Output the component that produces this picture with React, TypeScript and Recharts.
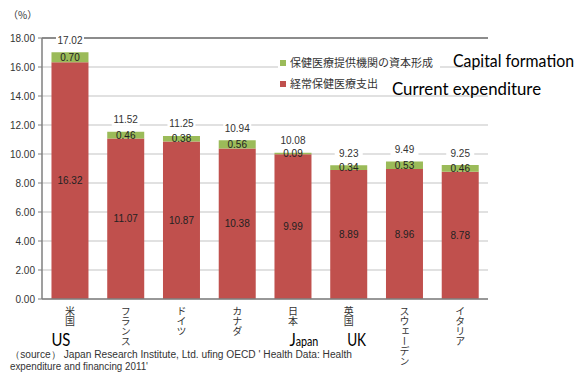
import React from "react";
import {
  BarChart,
  Bar,
  XAxis,
  YAxis,
  CartesianGrid,
  LabelList,
  ReferenceLine,
} from "recharts";

const countries = ["米国", "フランス", "ドイツ", "カナダ", "日本", "英国", "スウェーデン", "イタリア"];
const englishNames = ["US", "", "", "", "Japan", "UK", "", ""];
const currentExpenditure = [16.32, 11.07, 10.87, 10.38, 9.99, 8.89, 8.96, 8.78];
const capitalFormation = [0.7, 0.46, 0.38, 0.56, 0.09, 0.34, 0.53, 0.46];
const totals = [17.02, 11.52, 11.25, 10.94, 10.08, 9.23, 9.49, 9.25];
const yTicks = [0, 2, 4, 6, 8, 10, 12, 14, 16, 18];

const seriesJa = ["保健医療提供機関の資本形成", "経常保健医療支出"];
const seriesEn = ["Capital formation", "Current expenditure"];
const sourceLines = [
  "（source）  Japan Research Institute, Ltd. ufing OECD ' Health Data: Health",
  "expenditure and financing 2011'",
];

const RED = "#C0504D";
const GREEN = "#9BBB59";
const TEXT = "#333";
const FONT = "'Liberation Sans', Arial, sans-serif";
const CJK = "'Noto Sans CJK JP', sans-serif";
const EN_FONT = "Lato, 'Open Sans', sans-serif";

const data = countries.map((c, i) => ({
  country: c,
  current: currentExpenditure[i],
  capital: capitalFormation[i],
  total: totals[i],
}));

// hand placed english captions under some categories
const enStyle: Record<string, { dx: number; w: number }> = {
  US: { dx: -9, w: 19 },
  Japan: { dx: 11, w: 29 },
  UK: { dx: 8, w: 19 },
};

function CountryTick(props: any) {
  const { x, y, payload, index } = props;
  const en = englishNames[index];
  const st = enStyle[en];
  return (
    <g transform={`translate(${x},${y})`}>
      <text
        x={0}
        y={7}
        fontSize={10}
        fontFamily={CJK}
        fill={TEXT}
        style={{ writingMode: "vertical-rl" }}
      >
        {payload.value}
      </text>
      {en && st && (
        <text
          x={st.dx}
          y={47}
          textAnchor="middle"
          fontSize={18}
          fontFamily={EN_FONT}
          fill="#000"
          textLength={st.w}
          lengthAdjust="spacingAndGlyphs"
        >
          {en === "Japan" ? (
            <>
              <tspan>J</tspan>
              <tspan fontSize={13}>apan</tspan>
            </>
          ) : (
            en
          )}
        </text>
      )}
    </g>
  );
}

function TotalLabel(props: any) {
  const { x, y, width, value } = props;
  const cx = x + width / 2;
  const ty = y - 12;
  return (
    <g>
      <rect x={cx - 14} y={ty - 6} width={28} height={12} fill="#fff" />
      <text x={cx} y={ty + 3.5} textAnchor="middle" fontSize={10} fontFamily={FONT} fill={TEXT}>
        {Number(value).toFixed(2)}
      </text>
    </g>
  );
}

export default function App() {
  return (
    <div style={{ position: "absolute", left: 0, top: 0, width: 583, height: 372, background: "#fff" }}>
      <BarChart
        width={583}
        height={372}
        data={data}
        margin={{ top: 38, right: 95, bottom: 0, left: 0 }}
        barCategoryGap="17%"
      >
        <CartesianGrid vertical={false} stroke="#c4c4c4" strokeWidth={1.2} />
        <XAxis
          dataKey="country"
          height={73}
          interval={0}
          tickLine={false}
          tickSize={0}
          tickMargin={0}
          axisLine={{ stroke: "#7f7f7f", strokeWidth: 1.5 }}
          tick={<CountryTick />}
        />
        <YAxis
          width={42}
          domain={[0, 18]}
          ticks={yTicks}
          tickSize={4}
          tickMargin={3}
          tickFormatter={(v: number) => v.toFixed(2)}
          tick={{ fontSize: 10, fontFamily: FONT, fill: TEXT }}
          tickLine={{ stroke: "#7f7f7f" }}
          axisLine={{ stroke: "#7f7f7f", strokeWidth: 1.5 }}
        />
        <YAxis
          yAxisId="frame"
          orientation="right"
          width={0}
          tick={false}
          tickLine={false}
          axisLine={{ stroke: "#6f6f6f", strokeWidth: 1.5 }}
        />
        <ReferenceLine y={18} stroke="#6f6f6f" strokeWidth={1.5} />
        <Bar dataKey="current" stackId="a" fill={RED} isAnimationActive={false}>
          <LabelList
            dataKey="current"
            position="center"
            formatter={(v: any) => Number(v).toFixed(2)}
            style={{ fontSize: 10, fontFamily: FONT, fill: "#222" }}
          />
        </Bar>
        <Bar dataKey="capital" stackId="a" fill={GREEN} isAnimationActive={false}>
          <LabelList
            dataKey="capital"
            position="center"
            formatter={(v: any) => Number(v).toFixed(2)}
            style={{ fontSize: 10, fontFamily: FONT, fill: "#222" }}
          />
          <LabelList dataKey="total" content={<TotalLabel />} />
        </Bar>
      </BarChart>
      <svg
        width={583}
        height={372}
        style={{ position: "absolute", left: 0, top: 0, pointerEvents: "none" }}
      >
        <text x={8} y={19} fontSize={10} fontFamily={CJK} fill={TEXT}>
          （%）
        </text>
        <rect x={278} y={52} width={162} height={40} fill="#fff" />
        {[GREEN, RED].map((c, i) => (
          <g key={i}>
            <rect x={280} y={60 + i * 21} width={6} height={6} fill={c} />
            <text x={290} y={67 + i * 21} fontSize={11} fontFamily={CJK} fill={TEXT}>
              {seriesJa[i]}
            </text>
          </g>
        ))}
        <text x={453} y={67} fontSize={17} fontFamily={EN_FONT} fill="#000" textLength={121} lengthAdjust="spacingAndGlyphs">
          {seriesEn[0]}
        </text>
        <text x={392} y={95} fontSize={18} fontFamily={EN_FONT} fill="#000" textLength={149} lengthAdjust="spacingAndGlyphs">
          {seriesEn[1]}
        </text>
        {sourceLines.map((s, i) => (
          <text
            key={i}
            x={10}
            y={358 + i * 11.5}
            fontSize={10}
            fontFamily={FONT}
            fill={TEXT}
            textLength={i === 0 ? 342 : 138}
            lengthAdjust="spacingAndGlyphs"
          >
            {s}
          </text>
        ))}
      </svg>
    </div>
  );
}
